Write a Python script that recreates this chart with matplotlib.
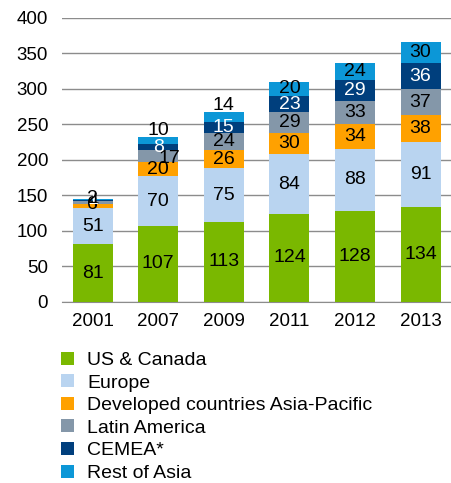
import matplotlib
matplotlib.use("Agg")
import matplotlib.pyplot as plt
import numpy as np

years = ["2001", "2007", "2009", "2011", "2012", "2013"]
series_names = ["US & Canada", "Europe", "Developed countries Asia-Pacific",
                "Latin America", "CEMEA*", "Rest of Asia"]
us_canada = [81, 107, 113, 124, 128, 134]
europe = [51, 70, 75, 84, 88, 91]
dev_apac = [6, 20, 26, 30, 34, 38]
latin_america = [4, 17, 24, 29, 33, 37]
cemea = [1, 8, 15, 23, 29, 36]
rest_of_asia = [2, 10, 14, 20, 24, 30]

series = [us_canada, europe, dev_apac, latin_america, cemea, rest_of_asia]
colors = ["#7AB800", "#B9D4F0", "#FFA100", "#8497A9", "#003F7D", "#0C97D7"]
text_colors = ["black", "black", "black", "black", "white", "black"]

plt.rcParams['font.family'] = ['Liberation Sans', 'DejaVu Sans']
fig = plt.figure(figsize=(4.52, 4.83), dpi=100)
ax = fig.add_axes([0.137, 0.375, 0.863, 0.588])

x = np.arange(len(years))
bottom = np.zeros(len(years))
for i, (vals, c) in enumerate(zip(series, colors)):
    vals = np.array(vals, dtype=float)
    ax.bar(x, vals, 0.61, bottom=bottom, color=c, label=series_names[i], zorder=3)
    for j, v in enumerate(vals):
        yc = bottom[j] + v / 2
        xc = x[j]
        if j == 0 and i >= 2:
            yc = bottom[j] + v / 2 + 2
        if i == 5 and j in (1, 2):
            yc = bottom[j] + v + 9
        if i == 3 and j == 1:
            xc = x[j] + 0.17
            yc = bottom[j] + v / 2 - 3
        ax.text(xc, yc, f"{int(v)}", ha="center", va="center", fontsize=14,
                color=text_colors[i], zorder=4)
    bottom += vals

ax.set_ylim(0, 400)
ax.set_yticks(np.arange(0, 401, 50))
ax.set_xlim(-0.47, len(years) - 0.52)
ax.set_xticks(x)
ax.set_xticklabels(years)
ax.tick_params(axis='both', length=0, labelsize=13.5)
ax.tick_params(axis='y', pad=10)
ax.tick_params(axis='x', pad=8)
ax.grid(axis='y', color='#8C8C8C', linewidth=1, zorder=0)
for s in ['left', 'right', 'top']:
    ax.spines[s].set_visible(False)
ax.spines['bottom'].set_color('#8C8C8C')

handles, labels = ax.get_legend_handles_labels()
fig.legend(handles, labels, loc='upper left', bbox_to_anchor=(0.118, 0.288),
           frameon=False, fontsize=14, handlelength=0.65, handleheight=0.65,
           labelspacing=0.27, handletextpad=0.7, borderaxespad=0)

fig.savefig("out.png", dpi=100)
